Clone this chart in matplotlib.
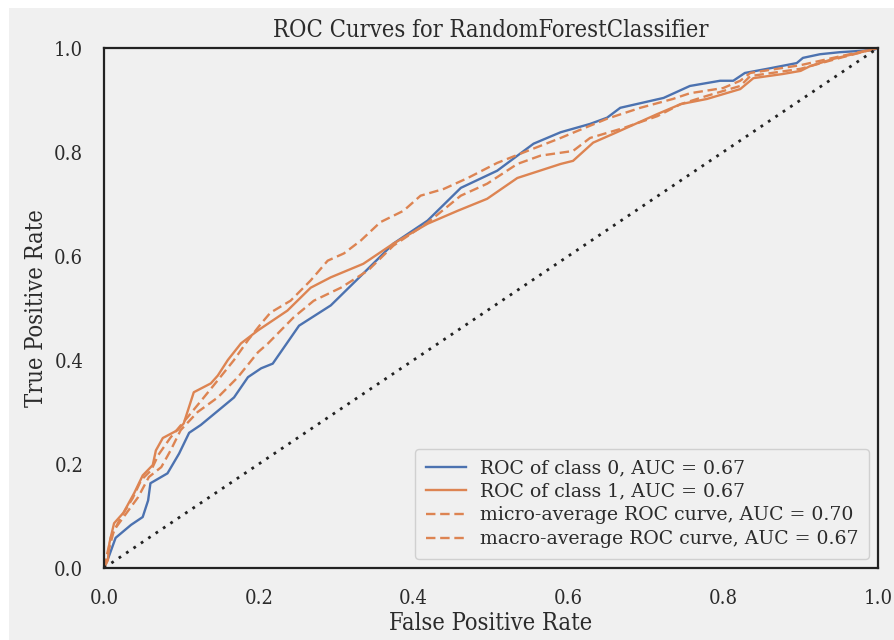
import matplotlib
matplotlib.use('Agg')
import matplotlib.pyplot as plt
from matplotlib import font_manager
from matplotlib.font_manager import FontProperties
from matplotlib.patches import Rectangle

# ROC points (false positive rate, true positive rate)
fpr_class0 = [0.0, 0.006, 0.015, 0.035, 0.05, 0.057, 0.06, 0.082, 0.097, 0.11,
              0.125, 0.151, 0.168, 0.186, 0.203, 0.218, 0.252, 0.293, 0.332,
              0.374, 0.418, 0.461, 0.508, 0.555, 0.59, 0.628, 0.65, 0.667,
              0.723, 0.757, 0.796, 0.813, 0.828, 0.857, 0.895, 0.903, 0.925,
              0.951, 0.994, 1.0]
tpr_class0 = [0.0, 0.021, 0.058, 0.083, 0.098, 0.13, 0.163, 0.182, 0.22, 0.26,
              0.275, 0.307, 0.328, 0.367, 0.384, 0.393, 0.466, 0.505, 0.562,
              0.624, 0.668, 0.731, 0.764, 0.816, 0.838, 0.854, 0.866, 0.885,
              0.904, 0.927, 0.937, 0.937, 0.952, 0.96, 0.971, 0.981, 0.988,
              0.992, 0.996, 1.0]

fpr_class1 = [0.0, 0.005, 0.007, 0.013, 0.025, 0.039, 0.05, 0.063, 0.067, 0.076,
              0.095, 0.103, 0.116, 0.138, 0.147, 0.16, 0.177, 0.199, 0.237,
              0.267, 0.293, 0.335, 0.374, 0.418, 0.457, 0.495, 0.534, 0.59,
              0.606, 0.632, 0.658, 0.715, 0.745, 0.779, 0.822, 0.839, 0.877,
              0.9, 0.912, 0.942, 0.973, 1.0]
tpr_class1 = [0.0, 0.015, 0.048, 0.086, 0.106, 0.144, 0.178, 0.198, 0.226, 0.25,
              0.265, 0.278, 0.338, 0.355, 0.37, 0.4, 0.432, 0.457, 0.495,
              0.539, 0.559, 0.585, 0.624, 0.662, 0.687, 0.71, 0.75, 0.777,
              0.783, 0.818, 0.835, 0.873, 0.892, 0.902, 0.921, 0.942, 0.95,
              0.956, 0.965, 0.979, 0.99, 1.0]

fpr_micro = [0.0, 0.009, 0.022, 0.037, 0.048, 0.061, 0.07, 0.086, 0.108, 0.129,
             0.147, 0.168, 0.186, 0.203, 0.215, 0.241, 0.267, 0.289, 0.31,
             0.332, 0.357, 0.387, 0.409, 0.439, 0.47, 0.508, 0.547, 0.59,
             0.606, 0.65, 0.693, 0.735, 0.757, 0.8, 0.822, 0.835, 0.9, 0.942,
             1.0]
tpr_micro = [0.0, 0.06, 0.098, 0.134, 0.169, 0.188, 0.217, 0.251, 0.29, 0.328,
             0.361, 0.4, 0.438, 0.47, 0.491, 0.514, 0.553, 0.591, 0.605,
             0.63, 0.665, 0.687, 0.716, 0.729, 0.75, 0.779, 0.802, 0.827,
             0.837, 0.864, 0.885, 0.902, 0.913, 0.923, 0.937, 0.952, 0.967,
             0.981, 1.0]

fpr_macro = [0.0, 0.013, 0.044, 0.058, 0.074, 0.086, 0.099, 0.121, 0.147, 0.173,
             0.199, 0.212, 0.245, 0.271, 0.306, 0.341, 0.374, 0.418, 0.461,
             0.495, 0.534, 0.564, 0.606, 0.628, 0.671, 0.715, 0.745, 0.779,
             0.822, 0.835, 0.9, 0.951, 1.0]
tpr_macro = [0.0, 0.073, 0.136, 0.175, 0.194, 0.226, 0.265, 0.3, 0.328, 0.367,
             0.415, 0.432, 0.482, 0.514, 0.539, 0.572, 0.62, 0.664, 0.716,
             0.739, 0.777, 0.793, 0.802, 0.827, 0.846, 0.869, 0.892, 0.908,
             0.927, 0.946, 0.96, 0.981, 1.0]

auc_class0 = 0.67
auc_class1 = 0.67
auc_micro = 0.70
auc_macro = 0.67

BLUE = '#4c72b0'
ORANGE = '#dd8452'
BG = '#f0f0f0'
INK = '#2b2b2b'

# narrow serif for title, ticks and axis labels when one is installed
cond = [f.fname for f in font_manager.fontManager.ttflist
        if 'serif' in f.fname.lower() and 'condensed' in f.fname.lower()
        and 'bold' not in f.fname.lower() and 'italic' not in f.fname.lower()
        and 'oblique' not in f.fname.lower()]
if cond:
    def narrow(size, wide_size):
        return FontProperties(fname=cond[0], size=size)
else:
    def narrow(size, wide_size):
        return FontProperties(family='DejaVu Serif', size=wide_size)

plt.rcParams['font.family'] = 'DejaVu Serif'

W, H = 894, 640
fig = plt.figure(figsize=(W / 100, H / 100), dpi=100, facecolor=BG)
# white strips along the top and left edge
fig.patches.append(Rectangle((0, 1 - 8 / H), 1, 8 / H, transform=fig.transFigure,
                             facecolor='white', edgecolor='none', zorder=-1))
fig.patches.append(Rectangle((0, 0), 9 / W, 1, transform=fig.transFigure,
                             facecolor='white', edgecolor='none', zorder=-1))

ax = fig.add_axes([104 / W, 1 - 568 / H, (878 - 104) / W, (568 - 48) / H])
ax.set_facecolor(BG)

ax.plot(fpr_class0, tpr_class0, color=BLUE, lw=1.7,
        label='ROC of class 0, AUC = {:0.2f}'.format(auc_class0))
ax.plot(fpr_class1, tpr_class1, color=ORANGE, lw=1.7,
        label='ROC of class 1, AUC = {:0.2f}'.format(auc_class1))
ax.plot(fpr_micro, tpr_micro, color=ORANGE, lw=1.7, linestyle=(0, (4, 2)),
        label='micro-average ROC curve, AUC = {:0.2f}'.format(auc_micro))
ax.plot(fpr_macro, tpr_macro, color=ORANGE, lw=1.7, linestyle=(0, (4, 2)),
        label='macro-average ROC curve, AUC = {:0.2f}'.format(auc_macro))
ax.plot([0, 1], [0, 1], color='#222222', lw=2, linestyle=(0, (1, 2.2)))

ax.set_xlim(0, 1)
ax.set_ylim(0, 1)
ticks = [0.0, 0.2, 0.4, 0.6, 0.8, 1.0]
ax.set_xticks(ticks)
ax.set_yticks(ticks)
ax.set_xticklabels(['{:.1f}'.format(t) for t in ticks],
                   fontproperties=narrow(14.5, 13.5), color=INK)
ax.set_yticklabels(['{:.1f}'.format(t) for t in ticks],
                   fontproperties=narrow(14.5, 13.5), color=INK)
ax.tick_params(length=0, pad=15)

for s in ax.spines.values():
    s.set_color('#222222')
    s.set_linewidth(1.6)

ax.set_title('ROC Curves for RandomForestClassifier',
             fontproperties=narrow(17, 15.2), color=INK, pad=8)
ax.set_xlabel('False Positive Rate', fontproperties=narrow(17, 15.0),
              color=INK, labelpad=3)
ax.set_ylabel('True Positive Rate', fontproperties=narrow(17, 15.0),
              color=INK, labelpad=4)

leg = ax.legend(loc='lower right', fontsize=13.6, frameon=True, facecolor=BG,
                edgecolor='#d0d0d0', handlelength=2.1, handletextpad=0.75,
                borderpad=0.55, labelspacing=0.3, framealpha=1,
                borderaxespad=0.5)
for t in leg.get_texts():
    t.set_color(INK)

fig.savefig('out.png', dpi=100, facecolor=BG)
